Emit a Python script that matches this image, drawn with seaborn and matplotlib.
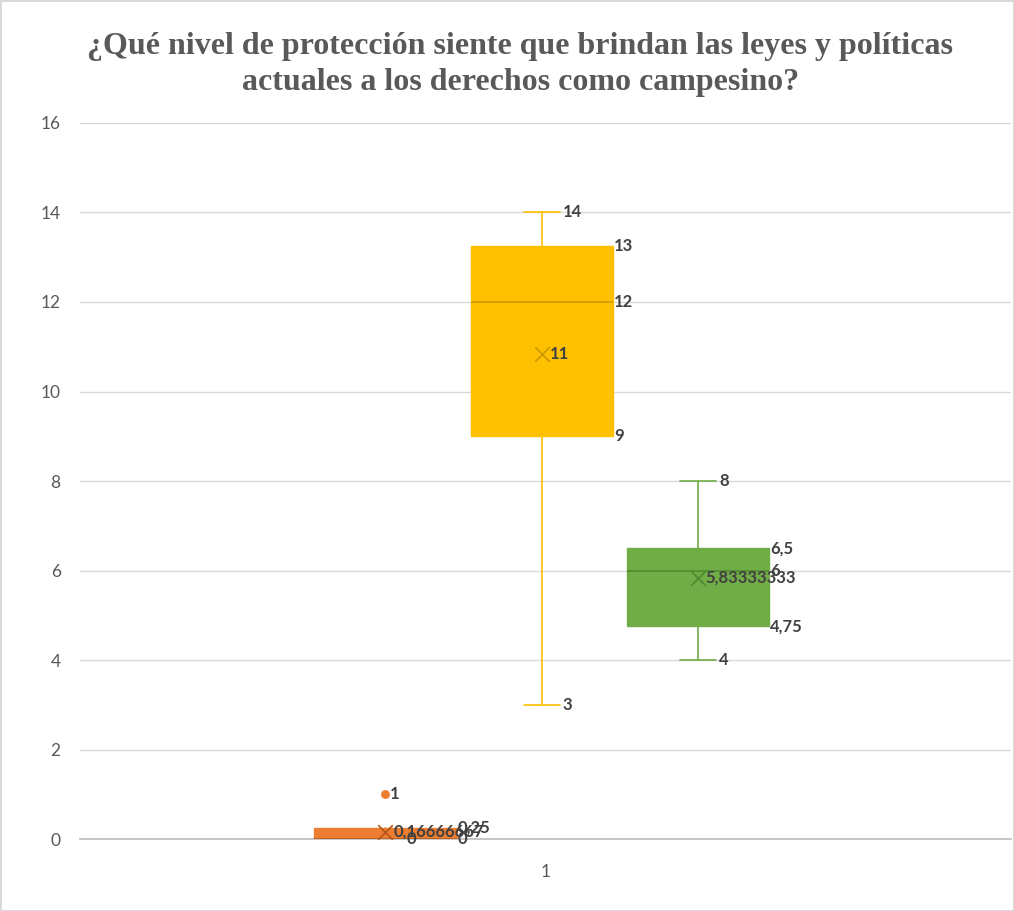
import numpy as np
import matplotlib.pyplot as plt
import seaborn as sns

# Raw responses per series (Excel box & whisker, exclusive quartiles)
series_names = ["Serie 1", "Serie 2", "Serie 3"]
values_orange = [0, 0, 0, 0, 0, 1]
values_yellow = [3, 11, 12, 12, 13, 14]
values_green = [4, 5, 6, 6, 6, 8]
series_values = [values_orange, values_yellow, values_green]
series_colors = ["#ED7D31", "#FFC000", "#70AD47"]
dark_colors = ["#B5571A", "#C99700", "#4E8A2E"]
label_decimals = [None, 0, None]  # yellow labels shown rounded in the source
category_labels = ["1"]
y_ticks = [0, 2, 4, 6, 8, 10, 12, 14, 16]
title = "¿Qué nivel de protección siente que brindan las leyes y políticas\nactuales a los derechos como campesino?"

sns.set_theme(style="white")
plt.rcParams["font.family"] = ["Lato", "DejaVu Sans"]


def excel_fmt(v, dec):
    if dec is not None:
        v = round(v, dec)
    s = f"{v:.8f}".rstrip("0").rstrip(".")
    return s.replace(".", ",")


def box_stats(vals):
    a = np.array(vals, dtype=float)
    q1, med, q3 = np.percentile(a, [25, 50, 75], method="weibull")
    iqr = q3 - q1
    lo, hi = q1 - 1.5 * iqr, q3 + 1.5 * iqr
    inside = a[(a >= lo) & (a <= hi)]
    return dict(q1=q1, med=med, q3=q3, whislo=inside.min(), whishi=inside.max(),
                mean=a.mean(), fliers=a[(a < lo) | (a > hi)])


fig = plt.figure(figsize=(10.14, 9.11), dpi=100)
ax = fig.add_axes([0.079, 0.079, 0.918, 0.786])

positions = [-1.025, -0.025, 0.975]
box_w = 0.91
cap_w = 0.23

for i, vals in enumerate(series_values):
    st = box_stats(vals)
    c, dc = series_colors[i], dark_colors[i]
    ax.bxp([st], positions=[positions[i]], widths=box_w, patch_artist=True,
           showmeans=False, showfliers=False, capwidths=[cap_w],
           boxprops=dict(facecolor=c, edgecolor=c, linewidth=1),
           whiskerprops=dict(color=c, linewidth=1.2),
           capprops=dict(color=c, linewidth=1.2),
           medianprops=dict(color=dc, linewidth=1.1), zorder=3)
    sns.scatterplot(x=[positions[i]], y=[st["mean"]], marker="x", s=110,
                    color=dc, linewidth=1.2, ax=ax, zorder=4)
    if len(st["fliers"]):
        sns.scatterplot(x=[positions[i]] * len(st["fliers"]), y=st["fliers"],
                        s=35, color=c, edgecolor=c, ax=ax, zorder=4)

    dec = label_decimals[i]
    right = positions[i] + box_w / 2
    cap_r = positions[i] + cap_w / 2
    lab_kw = dict(va="center", ha="left", fontsize=12, fontweight="bold",
                  color="#404040", zorder=5)
    placed = set()

    def put(x, v):
        key = (round(x, 3), round(v, 6))
        if key in placed:
            return
        placed.add(key)
        ax.text(x, v, excel_fmt(v, dec), **lab_kw)

    for v in (st["q1"], st["med"], st["q3"]):
        put(right + 0.01, v)
    for v in (st["whislo"], st["whishi"]):
        put(cap_r + 0.02, v)
    put(positions[i] + 0.05, st["mean"])
    for v in st["fliers"]:
        put(positions[i] + 0.03, v)

ax.set_xlim(-2.98, 2.98)
ax.set_ylim(0, 16)
ax.set_yticks(y_ticks)
ax.set_yticklabels([str(t) for t in y_ticks])
ax.set_xticks([0])
ax.set_xticklabels(category_labels)
ax.yaxis.grid(True, color="#D9D9D9", linewidth=1)
ax.set_axisbelow(True)
for s in ["top", "right", "left"]:
    ax.spines[s].set_visible(False)
ax.spines["bottom"].set_color("#BFBFBF")
ax.tick_params(axis="both", length=0, labelsize=12.5, colors="#595959")
ax.tick_params(axis="y", pad=14)
ax.tick_params(axis="x", pad=18)

fig.text(0.513, 0.929, title, ha="center", va="center", fontsize=23,
         fontweight="bold", color="#595959", family=["Liberation Serif"],
         linespacing=1.3)

fig.patch.set_edgecolor("#D9D9D9")
fig.patch.set_linewidth(2)

fig.savefig("out.png", dpi=100)
